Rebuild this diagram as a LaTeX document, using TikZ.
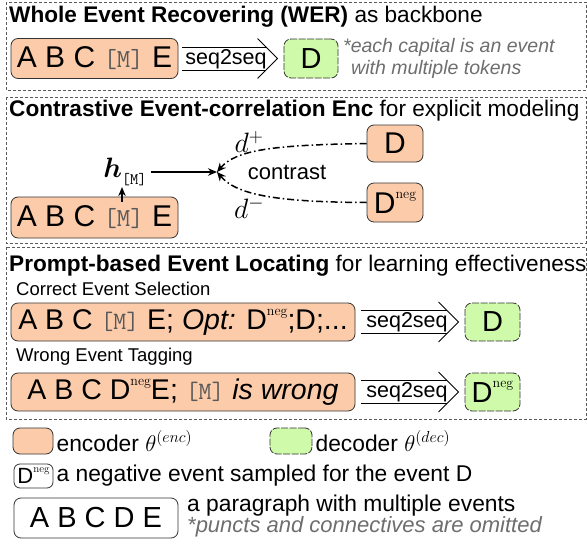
\documentclass[tikz,border=0pt]{standalone}
\usepackage{fix-cm}
\usepackage{bm}
\usepackage{fontspec}
\setmainfont{Liberation Sans}
\usetikzlibrary{arrows.meta,calc}
\definecolor{encfill}{RGB}{252,204,170}
\definecolor{decfill}{RGB}{206,250,170}
\definecolor{notegray}{RGB}{110,110,110}
\definecolor{sectgray}{RGB}{90,90,90}
\newcommand\lmrm{\fontfamily{lmr}\selectfont}
\newcommand\negup[1]{\raisebox{0.5em}{\fontsize{#1}{#1}\lmrm neg}}
\newcommand\mtok[1][25]{{\ttfamily\fontsize{#1}{#1}\selectfont\color{black!65}[M]}}
\begin{document}
\begin{tikzpicture}[x=1pt,y=-1pt,
  sect/.style={draw=sectgray,line width=0.6pt,dash pattern=on 3pt off 2pt},
  encb/.style={draw=black!80,fill=encfill,rounded corners=7pt,line width=0.8pt,inner sep=0pt,font=\fontsize{28.5}{30}\selectfont},
  bigt/.style={font=\fontsize{30}{32}\selectfont},
  decb/.style={draw=black!80,fill=decfill,rounded corners=7pt,line width=0.8pt,dash pattern=on 7pt off 1.5pt,inner sep=0pt,font=\fontsize{29}{30}\selectfont},
  ttl/.style={anchor=west,inner sep=0pt,font=\fontsize{22.6}{24}\selectfont},
  sub/.style={anchor=west,inner sep=0pt,font=\fontsize{18.5}{20}\selectfont},
  note/.style={anchor=west,inner sep=0pt,text=notegray,font=\fontsize{19.5}{22}\selectfont\itshape},
  leg/.style={anchor=west,inner sep=0pt,font=\fontsize{22.8}{24}\selectfont},
  seqln/.style={line width=0.9pt},
  seqtxt/.style={inner sep=0pt,font=\fontsize{21.5}{22}\selectfont},
  arr/.style={line width=1.2pt,-{Stealth[length=9pt,width=7.5pt]}},
  dd/.style={line width=1.5pt,dash pattern=on 7pt off 3pt on 1.5pt off 3pt,-{Stealth[length=9pt,width=8pt]}},
]
\useasboundingbox (0,0) rectangle (587,544);
% sections
\draw[sect] (6,2) rectangle (586,90);
\draw[sect] (6,97) rectangle (586,243);
\draw[sect] (6,247) rectangle (586,419);

% ---------- section 1
\node[ttl] (t1) at (9,17) {\textbf{Whole Event Recovering (WER)} as backbone};
\node[encb,bigt,minimum width=167pt,minimum height=40pt] (enc1) at (94.5,58.5) {A B C \mtok[26]\ E};
\node[decb,minimum width=54pt,minimum height=39pt] (dec1) at (311,58.5) {D};
\draw[seqln] ([xshift=4pt,yshift=11.5pt]enc1.east) -- ([xshift=-17.5pt,yshift=11.5pt]dec1.west);
\draw[seqln] ([xshift=4pt,yshift=-11.5pt]enc1.east) -- ([xshift=-17.5pt,yshift=-11.5pt]dec1.west);
\draw[seqln] ([xshift=-26pt,yshift=20pt]dec1.west) -- ([xshift=-6pt]dec1.west) -- ([xshift=-26pt,yshift=-20pt]dec1.west);
\node[seqtxt] (s1) at ($(enc1.east)!0.5!([xshift=-10pt]dec1.west)+(0,0.5)$) {seq2seq};
\node[note] (n1) at (343,47) {*each capital is an event};
\node[note] (n2) at (351,69) {with multiple tokens};

% ---------- section 2
\node[ttl] (t2) at (9,111) {\textbf{Contrastive Event-correlation Enc} for explicit modeling};
\node[encb,bigt,minimum width=56pt,minimum height=37pt] (dp) at (395,143.5) {D};
\node[encb,bigt,minimum width=56pt,minimum height=39pt] (dn) at (395,202.5) {D\negup{14}};
\node[encb,bigt,minimum width=167pt,minimum height=41pt] (enc2) at (94.5,217.5) {A B C \mtok[26]\ E};
\node[inner sep=1pt,font=\fontsize{28}{28}\selectfont] (h) at (125,172) {$\bm{h}$\raisebox{-0.25em}{\fontsize{16}{16}\ttfamily [M]}};
\coordinate (tip) at (217,172);
\coordinate (mup) at (122,202);
\draw[arr,shorten <=3pt] (h.east) -- (tip);
\draw[arr] (mup) -- (mup |- h.south);
\draw[dd] (dp.west) .. controls (272,145) and (236,150) .. (tip);
\draw[dd] (dn.west) .. controls (272,202) and (236,194) .. (tip);
\node[font=\fontsize{28}{28}\selectfont] (dplus) at (249,142) {$d^+$};
\node[font=\fontsize{28}{28}\selectfont] (dminus) at (249,208) {$d^-$};
\node[inner sep=0pt,font=\fontsize{22}{24}\selectfont] (con) at (287,172) {contrast};

% ---------- section 3
\node[ttl] (t3) at (9,266) {\textbf{Prompt-based Event Locating} for learning effectiveness};
\node[sub] (cs) at (16,289) {Correct Event Selection};
\node[encb,minimum width=344pt,minimum height=38pt] (enc3) at (183,322) {A B C \mtok\ E; \textit{Opt:} D\negup{14};D;...};
\node[decb,minimum width=55pt,minimum height=38pt] (dec3) at (492.5,322) {D};
\draw[seqln] ([xshift=6pt,yshift=11.5pt]enc3.east) -- ([xshift=-17.5pt,yshift=11.5pt]dec3.west);
\draw[seqln] ([xshift=6pt,yshift=-11.5pt]enc3.east) -- ([xshift=-17.5pt,yshift=-11.5pt]dec3.west);
\draw[seqln] ([xshift=-26pt,yshift=20pt]dec3.west) -- ([xshift=-6pt]dec3.west) -- ([xshift=-26pt,yshift=-20pt]dec3.west);
\node[seqtxt] (s3) at ($(enc3.east)!0.5!([xshift=-10pt]dec3.west)+(2,0.5)$) {seq2seq};

\node[sub] (wt) at (16,357) {Wrong Event Tagging};
\node[encb,minimum width=344pt,minimum height=38pt] (enc4) at (183,392) {A B C D\negup{14}E; \mtok\ \textit{is wrong}};
\node[decb,minimum width=55pt,minimum height=38pt] (dec4) at (492.5,392) {D\negup{14}};
\draw[seqln] ([xshift=6pt,yshift=11.5pt]enc4.east) -- ([xshift=-17.5pt,yshift=11.5pt]dec4.west);
\draw[seqln] ([xshift=6pt,yshift=-11.5pt]enc4.east) -- ([xshift=-17.5pt,yshift=-11.5pt]dec4.west);
\draw[seqln] ([xshift=-26pt,yshift=20pt]dec4.west) -- ([xshift=-6pt]dec4.west) -- ([xshift=-26pt,yshift=-20pt]dec4.west);
\node[seqtxt] (s4) at ($(enc4.east)!0.5!([xshift=-10pt]dec4.west)+(2,0.5)$) {seq2seq};

% ---------- legend
\node[encb,minimum width=40pt,minimum height=26pt] (lenc) at (33,441) {};
\node[leg] (lenct) at ([xshift=3pt]lenc.east) {encoder $\theta^{(enc)}$};
\node[decb,minimum width=42pt,minimum height=26pt] (ldec) at (291,441) {};
\node[leg] (ldect) at ([xshift=3pt]ldec.east) {decoder $\theta^{(dec)}$};
\node[draw=black!80,line width=0.8pt,rounded corners=6pt,minimum width=39pt,minimum height=24pt,inner sep=0pt,font=\fontsize{22}{22}\selectfont] (lneg) at (33.5,476) {D\negup{11}};
\node[leg] (lnegt) at ([xshift=3pt]lneg.east) {a negative event sampled for the event D};
\node[draw=black!80,line width=0.8pt,rounded corners=7pt,minimum width=164pt,minimum height=40pt,inner sep=0pt,font=\fontsize{29}{30}\selectfont] (lpar) at (96,518) {A B C D E};
\node[leg] (lpart) at (187,506) {a paragraph with multiple events};
\node[note,font=\fontsize{22}{24}\selectfont\itshape] (lpn) at (187,527) {*puncts and connectives are omitted};
\end{tikzpicture}
\end{document}
